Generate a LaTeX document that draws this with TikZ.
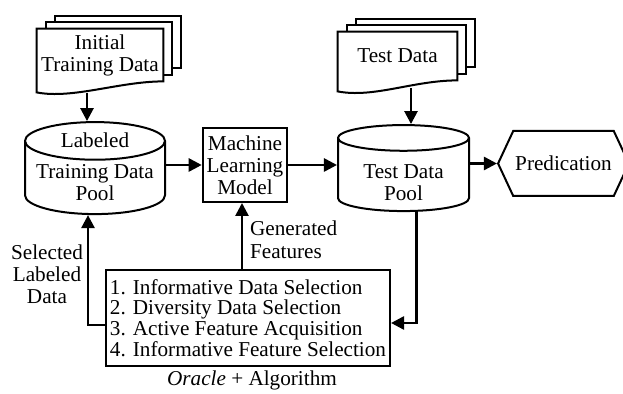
\documentclass[tikz,border=0pt]{standalone}
\usepackage{fontspec}
\setmainfont{Liberation Serif}
\usetikzlibrary{arrows.meta,positioning,shapes.geometric,shapes.symbols,backgrounds}

\tikzset{
  outline/.style={draw=black, line width=1pt},
  doc/.style={inner sep=0pt, align=center},
  pool/.style={outline, cylinder, shape border rotate=90, aspect=0.32, inner sep=0pt},
  box/.style={outline, rectangle, inner sep=2pt, align=center},
  hexa/.style={outline, signal, signal to=east and west, signal pointer angle=130,
    minimum width=59.5pt, minimum height=32.5pt, inner sep=1pt},
  flow/.style={line width=1.3pt, -{Triangle[length=6.5pt,width=6.5pt]}}
}

% stacked pages behind a document node, front page with wavy bottom
\newcommand\docstack[1]{%
  \begin{scope}[on background layer]
    \foreach \k in {2,1}
      \draw[outline, fill=white] ([shift={(\k*4.5pt,\k*3.25pt)}]#1.south west)
        rectangle ([shift={(\k*4.5pt,\k*3.25pt)}]#1.north east);
    \draw[outline, fill=white] (#1.north west) -- (#1.north east) -- (#1.south east)
      .. controls ([shift={(-22pt,0pt)}]#1.south east) and ([shift={(18pt,-9pt)}]#1.south west)
      .. ([yshift=-5.5pt]#1.south west) -- cycle;
  \end{scope}}

% text block moved up or down inside a drum
\newcommand\lifted[2]{\raisebox{#1}[0pt][0pt]{\begin{tabular}{@{}c@{}}#2\end{tabular}}}

\begin{document}
\begin{tikzpicture}[x=0.5pt, y=-0.5pt, font=\fontsize{10.6}{11}\selectfont]
  \useasboundingbox (0,0) rectangle (623,394);

  % inputs
  \node[doc, minimum width=63pt, minimum height=26pt] (initdoc) at (100,55) {Initial\\Training Data};
  \docstack{initdoc}
  \node[doc, minimum width=59.5pt, minimum height=24pt] (testdoc) at (397.5,56) {Test Data};
  \docstack{testdoc}

  % pools, model, output
  \node[pool, minimum width=70pt, minimum height=46pt] (lpool) at (95,178)
    {\lifted{1.3pt}{Labeled\\[4.5pt]Training Data\\Pool}};
  \node[pool, minimum width=65.5pt, minimum height=43pt] (testpool) at (403.5,175)
    {\lifted{-7.7pt}{Test Data\\Pool}};
  \node[box, minimum width=42pt, minimum height=37pt] (model) at (245,165) {Machine\\Learning\\Model};
  \node[hexa] (pred) at (563.5,163.5) {Predication};

  % selection step
  \node[box, align=left, minimum width=142pt, minimum height=48pt,
    font=\fontsize{10.6}{10.4}\selectfont] (algo) at (248,318)
    {1. Informative Data Selection\\2. Diversity Data Selection\\3. Active Feature Acquisition\\4. Informative Feature Selection};
  \node (oracle) at (252,380) {\textit{Oracle} + Algorithm};

  % connectors
  \coordinate (initout) at ([xshift=-6.5pt,yshift=-6pt]initdoc.south);
  \draw[flow] (initout) -- (initout |- lpool.north);
  \coordinate (testout) at ([xshift=6.75pt,yshift=-4pt]testdoc.south);
  \draw[flow] (testout) -- (testout |- testpool.north);
  \draw[flow] (lpool.east |- model.west) -- (model.west);
  \draw[flow] (model.east) -- (model.east -| testpool.west);
  \draw[flow] (testpool.east |- pred.west) -- (pred.west);
  \draw[flow] ([yshift=-3.5pt]algo.west) -| ([xshift=-3.5pt]lpool.south);
  \draw[flow] ([xshift=-1.5pt]model.south |- algo.north) -- ([xshift=-1.5pt]model.south);
  \draw[flow] ([xshift=6.5pt]testpool.south) |- ([yshift=-2.5pt]algo.east);

  \node[align=center, font=\fontsize{10.6}{11}\selectfont] (selected) at (47,274) {Selected\\Labeled\\Data};
  \node[anchor=west, align=left, font=\fontsize{10.6}{11.5}\selectfont] (generated) at (243,240) {Generated\\Features};
\end{tikzpicture}
\end{document}
